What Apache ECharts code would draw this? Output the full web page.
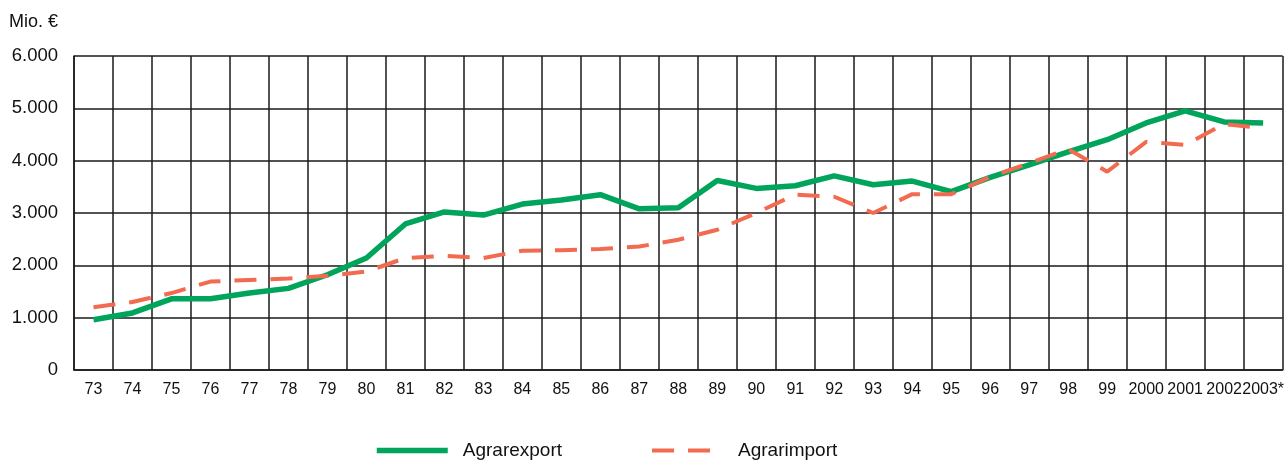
<!DOCTYPE html>
<html>
<head>
<meta charset="utf-8">
<script src="https://cdn.jsdelivr.net/npm/echarts@6/dist/echarts.min.js"></script>
<style>
  html, body { margin: 0; padding: 0; background: #fff; overflow: hidden; }
  #chart { width: 1287px; height: 461px; }
</style>
</head>
<body>
<div id="chart"></div>
<script>
const years = ['73', '74', '75', '76', '77', '78', '79', '80', '81', '82', '83', '84', '85', '86', '87', '88', '89', '90', '91', '92', '93', '94', '95', '96', '97', '98', '99', '2000', '2001', '2002', '2003*'];

const agrarexport = [960, 1090, 1360, 1360, 1470, 1560, 1820, 2140, 2790, 3020, 2960, 3170, 3250, 3350, 3080, 3100, 3620, 3470, 3520, 3710, 3540, 3610, 3410, 3680, 3920, 4170, 4400, 4720, 4950, 4740, 4720];

const agrarimport = [1200, 1300, 1470, 1690, 1720, 1750, 1800, 1880, 2140, 2180, 2140, 2280, 2290, 2310, 2360, 2490, 2680, 3000, 3350, 3310, 3000, 3360, 3360, 3690, 3950, 4220, 3790, 4360, 4300, 4700, 4620];

const yTicks = [0, 1000, 2000, 3000, 4000, 5000, 6000];

const GREEN = '#00a45a';
const RED = '#f26a4f';
const GRID = '#1a1a1a';

const chart = echarts.init(document.getElementById('chart'));

chart.setOption({
  animation: false,
  backgroundColor: '#fff',
  textStyle: { fontFamily: 'Liberation Sans, Arial, sans-serif', color: '#111' },
  title: {
    text: 'Mio. €',
    left: 9,
    top: 13,
    padding: 0,
    textStyle: { fontSize: 18, fontWeight: 'normal', color: '#111', fontFamily: 'Liberation Sans, Arial, sans-serif' }
  },
  legend: {
    left: 374,
    top: 441,
    padding: 0,
    itemWidth: 71,
    itemHeight: 16,
    itemGap: 88,
    itemStyle: { opacity: 0 },
    lineStyle: { width: 'inherit' },
    textStyle: { fontSize: 19, color: '#111', padding: [0, 0, 0, 10] },
    data: ['Agrarexport', 'Agrarimport']
  },
  grid: { left: 74, right: 1, top: 56, bottom: 91, containLabel: false },
  xAxis: {
    type: 'category',
    data: years,
    boundaryGap: true,
    axisLine: { show: true, lineStyle: { color: GRID, width: 1.5 } },
    axisTick: { show: false },
    axisLabel: {
      interval: 0,
      margin: 12,
      fontSize: 16,
      color: '#111'
    },
    splitLine: { show: true, interval: 0, lineStyle: { color: GRID, width: 1.5 } }
  },
  yAxis: {
    type: 'value',
    min: yTicks[0],
    max: yTicks[yTicks.length - 1],
    interval: 1000,
    axisLine: { show: true, lineStyle: { color: GRID, width: 1.5 } },
    axisTick: { show: false },
    axisLabel: {
      margin: 16,
      fontSize: 18.5,
      color: '#111',
      formatter: v => v === 0 ? '0' : (v / 1000).toFixed(0) + '.000'
    },
    splitLine: { show: true, lineStyle: { color: GRID, width: 1.5 } }
  },
  series: [
    {
      name: 'Agrarexport',
      type: 'line',
      data: agrarexport,
      showSymbol: false,
      symbol: 'none',
      color: GREEN,
      lineStyle: { color: GREEN, width: 5.5 },
      z: 3
    },
    {
      name: 'Agrarimport',
      type: 'line',
      data: agrarimport,
      showSymbol: false,
      symbol: 'none',
      color: RED,
      lineStyle: { color: RED, width: 4, type: [22, 14] },
      z: 4
    }
  ]
});
</script>
</body>
</html>
